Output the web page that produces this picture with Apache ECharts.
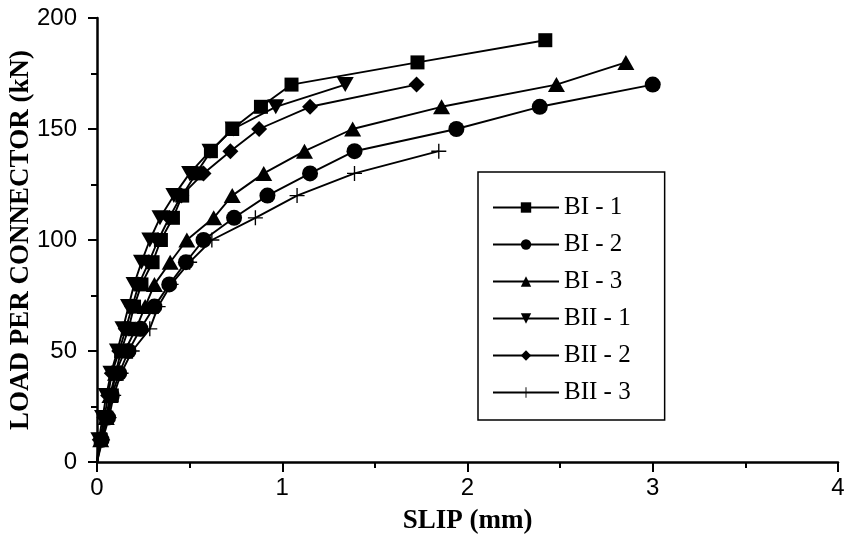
<!DOCTYPE html>
<html>
<head>
<meta charset="utf-8">
<script src="https://cdn.jsdelivr.net/npm/echarts@6/dist/echarts.min.js"></script>
<style>
  html, body { margin: 0; padding: 0; background: #fff; }
  #chart { width: 852px; height: 539px; }
</style>
</head>
<body>
<div id="chart"></div>
<script>
// Push-out test: load per connector (kN) against slip (mm)
const seriesNames = ['BI - 1', 'BI - 2', 'BI - 3', 'BII - 1', 'BII - 2', 'BII - 3'];

const loadBI1 = [0, 10, 20, 30, 40, 50, 60, 70, 80, 90, 100, 110, 120, 130, 140, 150, 160, 170, 180, 190];
const slipBI1 = [0, 0.02, 0.05, 0.08, 0.10, 0.13, 0.17, 0.20, 0.24, 0.30, 0.345, 0.41, 0.46, 0.535, 0.615, 0.73, 0.885, 1.05, 1.73, 2.42];

const loadBI2 = [0, 10, 20, 30, 40, 50, 60, 70, 80, 90, 100, 110, 120, 130, 140, 150, 160, 170];
const slipBI2 = [0, 0.025, 0.06, 0.08, 0.12, 0.17, 0.235, 0.31, 0.39, 0.48, 0.575, 0.74, 0.92, 1.15, 1.39, 1.94, 2.39, 3.0];

const loadBI3 = [0, 10, 20, 30, 40, 50, 60, 70, 80, 90, 100, 110, 120, 130, 140, 150, 160, 170, 180];
const slipBI3 = [0, 0.02, 0.05, 0.07, 0.10, 0.15, 0.21, 0.26, 0.31, 0.395, 0.485, 0.63, 0.73, 0.90, 1.12, 1.38, 1.86, 2.48, 2.855];

const loadBII1 = [0, 10, 20, 30, 40, 50, 60, 70, 80, 90, 100, 110, 120, 130, 140, 150, 160, 170];
const slipBII1 = [0, 0.01, 0.03, 0.05, 0.075, 0.11, 0.14, 0.17, 0.20, 0.24, 0.285, 0.34, 0.415, 0.50, 0.61, 0.735, 0.965, 1.34];

const loadBII2 = [0, 10, 20, 30, 40, 50, 60, 70, 80, 90, 100, 110, 120, 130, 140, 150, 160, 170];
const slipBII2 = [0, 0.015, 0.04, 0.06, 0.08, 0.12, 0.155, 0.19, 0.225, 0.28, 0.33, 0.39, 0.455, 0.575, 0.72, 0.875, 1.15, 1.725];

const loadBII3 = [0, 10, 20, 30, 40, 50, 60, 70, 80, 90, 100, 110, 120, 130, 140];
const slipBII3 = [0, 0.03, 0.065, 0.09, 0.13, 0.19, 0.285, 0.33, 0.40, 0.50, 0.62, 0.855, 1.08, 1.39, 1.845];

const xTickLabels = ['0', '1', '2', '3', '4'];
const yTickLabels = ['0', '50', '100', '150', '200'];

// marker shapes
const DIAMOND = 'path://M0,-1 L1,0 L0,1 L-1,0 Z';
const PLUS = 'path://M-0.09,-1 L0.09,-1 L0.09,-0.09 L1,-0.09 L1,0.09 L0.09,0.09 L0.09,1 L-0.09,1 L-0.09,0.09 L-1,0.09 L-1,-0.09 L-0.09,-0.09 Z';

function pairs(slips, loads) {
  return slips.map((s, i) => {
    const v = [s, loads[i]];
    // the curve starts at the origin without a marker
    return (s === 0 && loads[i] === 0) ? { value: v, symbol: 'none' } : v;
  });
}

function makeSeries(name, slips, loads, symbol, size, rotate) {
  return {
    name: name,
    type: 'line',
    data: pairs(slips, loads),
    symbol: symbol,
    symbolSize: size,
    symbolRotate: rotate || 0,
    symbolKeepAspect: true,
    showAllSymbol: true,
    lineStyle: { color: '#000', width: 1.9 },
    itemStyle: { color: '#000', borderWidth: 0 },
    emphasis: { disabled: true },
    animation: false,
    z: 3
  };
}

const chart = echarts.init(document.getElementById('chart'), null, { renderer: 'canvas' });

chart.setOption({
  backgroundColor: '#fff',
  animation: false,
  grid: { left: 97, right: 14, top: 18, bottom: 77, containLabel: false, outerBoundsMode: 'none' },
  xAxis: {
    type: 'value',
    min: 0, max: 4, interval: 1,
    name: 'SLIP (mm)',
    nameLocation: 'middle',
    nameGap: 46,
    nameMoveOverlap: false,
    nameTextStyle: { fontFamily: 'Liberation Serif', fontWeight: 'bold', fontSize: 27, color: '#000' },
    axisLine: { show: true, lineStyle: { color: '#000', width: 2.5 } },
    axisTick: { show: true, inside: false, length: 10, lineStyle: { color: '#000', width: 2 } },
    minorTick: { show: true, splitNumber: 2, length: 6, lineStyle: { color: '#000', width: 2 } },
    splitLine: { show: false },
    axisLabel: {
      margin: 14,
      fontFamily: 'Liberation Sans', fontSize: 24, color: '#000',
      formatter: v => xTickLabels[Math.round(v)]
    }
  },
  yAxis: {
    type: 'value',
    min: 0, max: 200, interval: 50,
    name: 'LOAD PER CONNECTOR (kN)',
    nameLocation: 'middle',
    nameGap: 62,
    nameMoveOverlap: false,
    nameRotate: 90,
    nameTextStyle: { fontFamily: 'Liberation Serif', fontWeight: 'bold', fontSize: 27, color: '#000' },
    axisLine: { show: true, lineStyle: { color: '#000', width: 2.5 } },
    axisTick: { show: true, inside: false, length: 9, lineStyle: { color: '#000', width: 2 } },
    minorTick: { show: true, splitNumber: 2, length: 6, lineStyle: { color: '#000', width: 2 } },
    splitLine: { show: false },
    axisLabel: {
      margin: 20,
      fontFamily: 'Liberation Sans', fontSize: 24, color: '#000',
      formatter: v => yTickLabels[Math.round(v / 50)]
    }
  },
  legend: {
    orient: 'vertical',
    left: 478,
    top: 172,
    data: seriesNames,
    backgroundColor: '#fff',
    borderColor: '#000',
    borderWidth: 1.5,
    borderRadius: 0,
    padding: [23, 34, 15, 14],
    itemWidth: 66,
    itemHeight: 13,
    itemGap: 12,
    selectedMode: false,
    textStyle: { fontFamily: 'Liberation Serif', fontSize: 25, color: '#000', lineHeight: 24 },
    z: 10
  },
  series: [
    makeSeries(seriesNames[0], slipBI1, loadBI1, 'rect', 14),
    makeSeries(seriesNames[1], slipBI2, loadBI2, 'circle', 16),
    makeSeries(seriesNames[2], slipBI3, loadBI3, 'triangle', [17, 15]),
    makeSeries(seriesNames[3], slipBII1, loadBII1, 'triangle', [17, 15], 180),
    makeSeries(seriesNames[4], slipBII2, loadBII2, DIAMOND, 16),
    makeSeries(seriesNames[5], slipBII3, loadBII3, PLUS, 15)
  ]
});
</script>
</body>
</html>
